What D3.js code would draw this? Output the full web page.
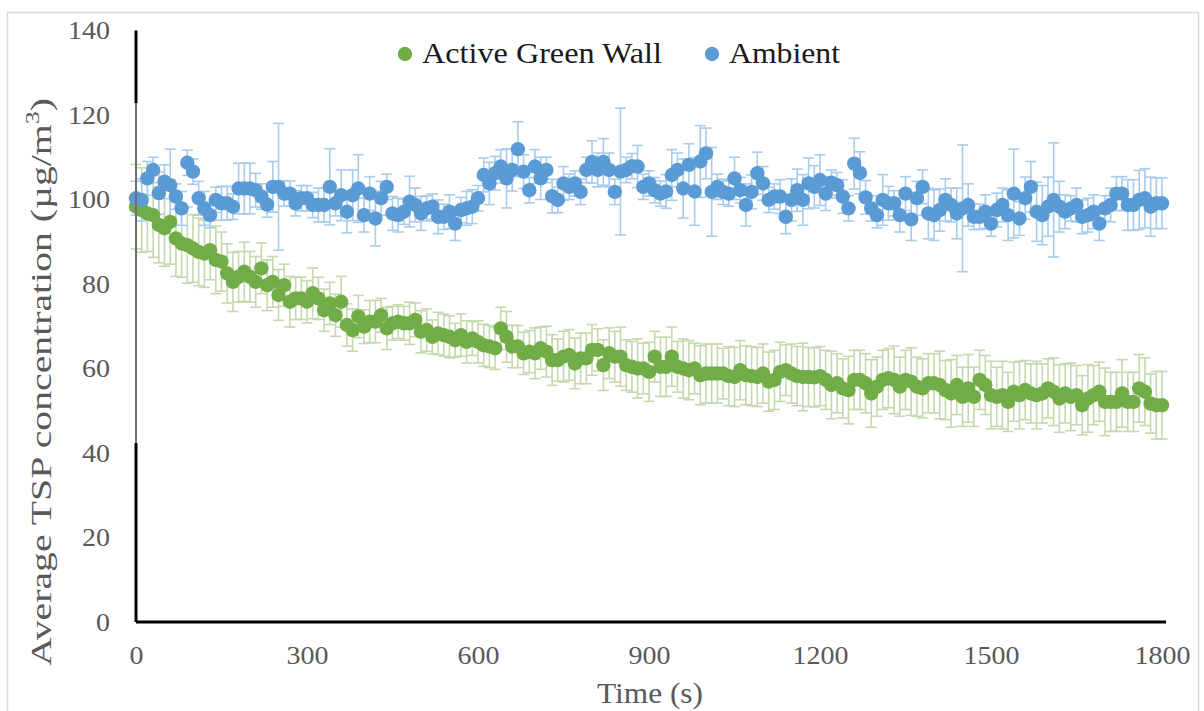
<!DOCTYPE html>
<html lang="en">
<head>
  <meta charset="UTF-8">
  <title>Average TSP concentration</title>
  <script src="https://d3js.org/d3.v7.min.js"></script>
  <style>
    body { margin: 0; background: #fff; }
    text { font-family: "Liberation Serif", "Times New Roman", serif; }
    .tick text { fill: #595959; font-size: 25px; }
  </style>
</head>
<body>
  <div id="chart"></div>

  <script>
    // sample times, every 10 s
    const times = d3.range(0, 1801, 10);

    // Active Green Wall mean and error (ug/m3)
    const greenMean = [
      98.3, 97.5, 96.7, 96.3, 94.0, 93.2, 94.7, 90.8, 89.6, 89.2,
      88.4, 87.6, 87.2, 88.0, 85.7, 85.3, 82.5, 80.5, 81.7, 82.9,
      81.7, 80.5, 83.7, 79.7, 80.5, 77.4, 79.7, 75.8, 76.6, 76.6,
      75.8, 77.8, 76.6, 73.8, 75.4, 72.6, 75.8, 70.3, 69.1, 72.3,
      69.9, 71.1, 71.1, 72.6, 69.5, 70.7, 71.1, 70.7, 70.7, 71.5,
      68.7, 69.1, 67.5, 68.3, 67.9, 67.5, 66.7, 67.9, 66.3, 67.1,
      66.3, 65.5, 65.2, 64.8, 69.5, 67.5, 65.2, 65.2, 63.6, 64.0,
      63.6, 64.8, 64.0, 62.0, 62.0, 62.8, 63.2, 61.2, 62.4, 62.4,
      64.4, 64.4, 60.8, 63.6, 62.8, 62.8, 60.8, 60.4, 60.0, 60.0,
      59.2, 62.8, 60.4, 60.4, 62.8, 60.4, 60.0, 59.6, 60.0, 58.4,
      58.8, 58.8, 58.8, 58.8, 58.2, 58.0, 59.6, 58.4, 58.2, 58.0,
      58.8, 56.9, 57.3, 59.2, 59.6, 58.8, 58.2, 58.0, 58.0, 57.9,
      58.2, 57.3, 56.1, 56.5, 55.3, 54.9, 57.3, 57.3, 56.5, 54.1,
      55.7, 57.3, 57.7, 57.3, 55.7, 57.3, 56.9, 55.7, 55.3, 56.5,
      56.5, 56.1, 54.9, 54.1, 56.1, 53.3, 55.3, 53.3, 57.3, 56.1,
      53.7, 53.3, 53.7, 52.1, 54.5, 53.7, 54.9, 54.1, 53.7, 54.1,
      55.3, 54.5, 52.9, 54.1, 53.3, 53.7, 51.3, 52.9, 53.7, 54.5,
      52.1, 52.1, 52.1, 54.1, 52.1, 52.1, 55.3, 54.5, 51.7, 51.3,
      51.3
    ];
    const greenErr = [
      10, 10, 9, 10, 9, 9, 10, 9, 8, 9,
      8, 8, 8, 7, 8, 7, 7, 7, 6, 7,
      6, 6, 6, 6, 6, 6, 5, 6, 5, 5,
      5, 6, 5, 5, 5, 5, 6, 5, 5, 5,
      4, 5, 5, 4, 5, 4, 4, 4, 5, 4,
      5, 5, 4, 5, 5, 5, 4, 5, 5, 4,
      5, 5, 5, 5, 5, 6, 5, 5, 5, 5,
      6, 5, 6, 6, 5, 6, 6, 6, 6, 6,
      6, 5, 6, 6, 6, 7, 6, 6, 7, 6,
      7, 6, 7, 7, 7, 6, 7, 7, 6, 7,
      7, 7, 7, 6, 7, 7, 7, 7, 7, 7,
      7, 7, 7, 7, 6, 7, 7, 8, 7, 7,
      7, 7, 8, 7, 7, 8, 7, 7, 7, 8,
      7, 7, 7, 8, 7, 7, 8, 7, 7, 7,
      7, 8, 7, 8, 7, 7, 8, 7, 7, 7,
      8, 7, 8, 7, 7, 8, 7, 7, 8, 7,
      7, 8, 8, 7, 8, 7, 7, 8, 7, 7,
      8, 7, 7, 8, 7, 7, 8, 8, 7, 8,
      8
    ];

    // Ambient mean and error (ug/m3)
    const ambientMean = [
      100.3, 99.9, 105.0, 107.0, 101.5, 104.2, 103.4, 100.7, 97.9, 108.7,
      106.6, 100.3, 97.9, 96.3, 99.9, 99.1, 99.1, 98.3, 102.6, 102.6,
      102.6, 102.2, 100.7, 98.8, 103.0, 103.0, 101.4, 101.4, 99.1, 100.3,
      100.3, 98.7, 98.7, 98.7, 103.0, 99.1, 101.0, 97.1, 101.0, 102.6,
      96.3, 101.4, 95.5, 100.3, 103.0, 96.7, 96.3, 97.1, 99.5, 98.7,
      96.7, 97.9, 98.3, 95.9, 95.9, 97.1, 94.3, 97.5, 97.9, 98.3,
      100.3, 105.8, 103.8, 106.2, 107.8, 105.0, 107.0, 111.9, 106.6, 102.2,
      107.8, 105.0, 107.0, 100.8, 99.9, 103.8, 103.0, 103.8, 101.8, 107.0,
      108.9, 107.0, 108.9, 107.0, 101.8, 106.6, 107.0, 107.9, 107.8, 103.0,
      103.8, 102.2, 101.4, 101.9, 105.8, 107.0, 102.6, 108.2, 101.9, 109.0,
      110.9, 101.8, 103.0, 101.8, 101.4, 105.0, 102.2, 98.7, 101.8, 106.2,
      103.8, 99.9, 100.7, 100.7, 95.9, 99.9, 102.2, 99.9, 103.8, 103.0,
      104.6, 101.4, 104.0, 103.4, 100.7, 97.9, 108.5, 106.3, 100.5, 97.9,
      96.3, 99.9, 99.1, 99.1, 96.3, 101.4, 95.3, 100.3, 103.0, 96.7,
      96.3, 97.5, 99.9, 98.7, 96.7, 97.9, 98.7, 95.9, 95.9, 97.1,
      94.3, 97.5, 98.7, 96.3, 101.4, 95.5, 100.3, 103.0, 97.1, 96.3,
      98.3, 99.9, 98.3, 97.1, 97.9, 98.7, 95.9, 96.3, 97.1, 94.3,
      97.9, 98.7, 101.4, 101.4, 98.7, 98.7, 99.9, 100.3, 98.3, 99.1,
      99.1
    ];
    const ambientErr = [
      4, 5, 4, 3, 5, 4, 8.5, 3, 4, 3,
      3, 4, 4, 3, 3, 4, 4, 3, 6, 6,
      6, 4, 3, 3, 6, 15, 3, 3, 3, 3,
      3, 3, 4, 4, 9, 3, 6, 5, 6, 8,
      4, 4, 6.5, 4, 3, 4, 4, 3, 6, 4,
      4, 3, 3, 4, 3, 4, 4, 3, 4, 4,
      3, 4, 5, 4, 4, 7, 5, 6.5, 4, 3,
      4, 5, 3, 4, 3, 4, 3, 3, 3, 3,
      5, 4, 5.5, 4, 3, 15, 3, 3, 5, 3,
      3, 3, 3, 4, 6, 4, 7, 5, 8, 8.5,
      6, 10.5, 3, 3, 3, 5, 3, 5, 4, 5,
      4, 3, 3, 4, 4, 5, 5, 6, 6, 5,
      6, 4, 3, 3, 4, 3, 6, 5, 4, 3,
      3, 6, 4, 3, 4, 4, 5, 4, 4, 6,
      6, 5, 5, 4, 6, 15, 5, 3, 3, 4,
      3, 4, 4, 6, 10.5, 4, 5, 6, 7, 7,
      7, 13.5, 6, 4, 3, 4, 4, 4, 4, 4,
      3, 4, 4, 4, 6, 6, 7, 7, 7, 6,
      6
    ];

    const xTicks = [0, 300, 600, 900, 1200, 1500, 1800];
    const yTicks = [0, 20, 40, 60, 80, 100, 120, 140];

    const series = [
      { name: "Active Green Wall", mean: greenMean, err: greenErr, color: "#70ad47", barColor: "#c4d9ae", legendLen: 240 },
      { name: "Ambient", mean: ambientMean, err: ambientErr, color: "#5b9bd5", barColor: "#a9cbec", legendLen: 111 }
    ];

    const W = 1204, H = 711;
    const svg = d3.select("#chart").append("svg")
      .attr("width", W)
      .attr("height", H);

    svg.append("rect").attr("width", W).attr("height", H).attr("fill", "#fff");
    // outer chart frame
    svg.append("rect")
      .attr("x", 7.5).attr("y", 12.5)
      .attr("width", 1191).attr("height", 720)
      .attr("fill", "none")
      .attr("stroke", "#d9d9d9")
      .attr("stroke-width", 1.5);

    const x = d3.scaleLinear().domain([0, 1800]).range([136, 1162]);
    const y = d3.scaleLinear().domain([0, 140]).range([622, 30.5]);

    // error bars first, then the markers on top
    series.forEach(s => {
      const pts = times.map((t, i) => ({ t, v: s.mean[i], e: s.err[i] }));
      const bars = svg.append("g").selectAll("g").data(pts).enter().append("g")
        .attr("stroke", s.barColor)
        .attr("stroke-width", 1.6);
      bars.append("line")
        .attr("x1", d => x(d.t)).attr("x2", d => x(d.t))
        .attr("y1", d => y(d.v - d.e)).attr("y2", d => y(d.v + d.e));
      [-1, 1].forEach(k => {
        bars.append("line")
          .attr("x1", d => x(d.t) - 5.5).attr("x2", d => x(d.t) + 5.5)
          .attr("y1", d => y(d.v + k * d.e)).attr("y2", d => y(d.v + k * d.e));
      });
    });
    series.forEach(s => {
      svg.append("g").selectAll("circle")
        .data(times.map((t, i) => ({ t, v: s.mean[i] })))
        .enter().append("circle")
        .attr("cx", d => x(d.t))
        .attr("cy", d => y(d.v))
        .attr("r", 7.2)
        .attr("fill", s.color);
    });

    // axes (labels are a bit wider than the font, as in the source)
    const yAxis = svg.append("g")
      .attr("transform", `translate(${x(0)},0)`)
      .call(d3.axisLeft(y).tickValues(yTicks).tickSize(0).tickPadding(26));
    yAxis.select(".domain").remove();

    const xAxis = svg.append("g")
      .attr("transform", `translate(0,${y(0)})`)
      .call(d3.axisBottom(x).tickValues(xTicks).tickFormat(d3.format("d")).tickSize(0).tickPadding(24));
    xAxis.select(".domain").remove();

    svg.selectAll(".tick text")
      .attr("textLength", function() { return this.textContent.length * 14; })
      .attr("lengthAdjust", "spacingAndGlyphs");

    // vertical axis line (black ends, grey middle as in the source image)
    svg.append("line")
      .attr("x1", x(0)).attr("x2", x(0))
      .attr("y1", y(122.8)).attr("y2", y(42.4))
      .attr("stroke", "#6e6e6e").attr("stroke-width", 2);
    [[140, 122.8], [42.4, 0]].forEach(([a, b]) => {
      svg.append("line")
        .attr("x1", x(0)).attr("x2", x(0))
        .attr("y1", y(a)).attr("y2", y(b))
        .attr("stroke", "#000").attr("stroke-width", 3);
    });
    svg.append("line")
      .attr("x1", x(0)).attr("x2", x(1800) + 4)
      .attr("y1", y(0)).attr("y2", y(0))
      .attr("stroke", "#000").attr("stroke-width", 3);

    // axis titles
    svg.append("text")
      .attr("x", 650).attr("y", 703)
      .attr("text-anchor", "middle")
      .attr("fill", "#595959")
      .attr("font-size", 30)
      .attr("textLength", 106)
      .attr("lengthAdjust", "spacingAndGlyphs")
      .text("Time (s)");

    const yt = svg.append("text")
      .attr("transform", "translate(51,382) rotate(-90)")
      .attr("text-anchor", "middle")
      .attr("fill", "#595959")
      .attr("font-size", 29)
      .attr("textLength", 568)
      .attr("lengthAdjust", "spacingAndGlyphs")
      .text("Average TSP concentration (µg/m");
    yt.append("tspan").attr("font-size", 19).attr("dy", -12).text("3");
    yt.append("tspan").attr("dy", 12).text(")");

    // legend
    const legendX = [405, 712];
    series.forEach((s, i) => {
      svg.append("circle")
        .attr("cx", legendX[i]).attr("cy", 54)
        .attr("r", 7.2)
        .attr("fill", s.color);
      svg.append("text")
        .attr("x", legendX[i] + 17).attr("y", 63)
        .attr("fill", "#1a1a1a")
        .attr("font-size", 30)
        .attr("textLength", s.legendLen)
        .attr("lengthAdjust", "spacingAndGlyphs")
        .text(s.name);
    });
  </script>
</body>
</html>
